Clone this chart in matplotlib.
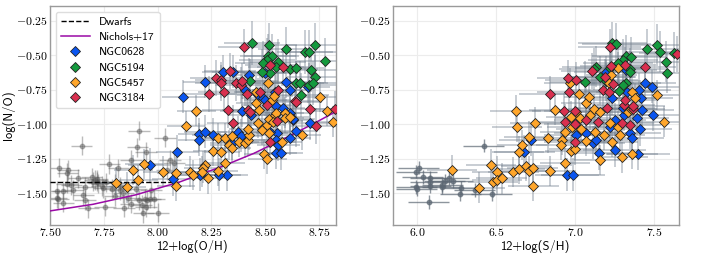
import matplotlib
matplotlib.use("Agg")
import matplotlib.pyplot as plt
from matplotlib.ticker import FuncFormatter, MultipleLocator
from matplotlib.lines import Line2D
import numpy as np

plt.rcParams['mathtext.fontset'] = 'cm'
plt.rcParams['font.family'] = ['cmss10', 'DejaVu Sans']
plt.rcParams['axes.formatter.use_mathtext'] = True

# ---------------- data: left panel (12+log(O/H), log(N/O)) ----------------
dwarf_oh = [7.647, 7.915, 8.034, 7.906, 7.946, 7.876, 7.776, 7.818, 7.543, 7.585,
            7.581, 7.632, 7.694, 7.709, 7.717, 7.701, 7.725, 7.740, 7.748, 7.663,
            7.608, 7.531, 7.559, 7.531, 7.539, 7.562, 7.655, 7.663, 7.678, 7.756,
            7.825, 7.841, 7.864, 7.844, 7.915, 7.926, 7.940, 7.949, 7.965, 7.946,
            7.934, 8.003, 7.802, 7.825, 8.058, 8.076, 8.045, 7.985, 7.875, 7.580,
            7.600, 7.720, 7.760, 7.790, 7.800, 7.900, 7.970]
dwarf_no_oh = [-1.155, -1.047, -1.097, -1.167, -1.199, -1.259, -1.288, -1.319, -1.314, -1.331,
               -1.351, -1.392, -1.385, -1.404, -1.416, -1.416, -1.428, -1.447, -1.464, -1.452,
               -1.476, -1.483, -1.483, -1.536, -1.543, -1.568, -1.512, -1.549, -1.609, -1.597,
               -1.476, -1.500, -1.536, -1.604, -1.549, -1.585, -1.540, -1.552, -1.540, -1.602,
               -1.645, -1.640, -1.428, -1.450, -1.259, -1.278, -1.331, -1.540, -1.575, -1.430,
               -1.440, -1.400, -1.420, -1.470, -1.520, -1.470, -1.480]

n628_oh = [8.305, 8.352, 8.219, 8.120, 8.426, 8.406, 8.468, 8.391, 8.499, 8.597,
           8.615, 8.700, 8.491, 8.547, 8.500, 8.092, 8.194, 8.194, 8.223, 8.259,
           8.375, 8.388, 8.344, 8.433, 8.553, 8.584, 8.615, 8.556, 8.550, 8.561,
           8.615, 8.646, 8.628, 8.708, 8.550, 8.576, 8.321, 8.287, 8.197, 8.073,
           8.522, 7.965, 8.631]
n628_no_oh = [-0.619, -0.619, -0.692, -0.800, -0.644, -0.752, -0.788, -0.902, -0.631, -0.692,
              -0.752, -0.728, -0.812, -0.764, -0.824, -1.198, -1.073, -1.114, -1.054, -1.078,
              -1.059, -1.085, -1.138, -0.933, -0.868, -0.885, -0.921, -1.066, -1.114, -1.150,
              -1.102, -1.047, -0.969, -0.993, -1.206, -1.211, -1.367, -1.367, -1.367, -1.397,
              -1.054, -1.295, -0.964]

n5194_oh = [8.439, 8.519, 8.597, 8.731, 8.685, 8.705, 8.778, 8.514, 8.530, 8.507,
            8.561, 8.491, 8.550, 8.618, 8.646, 8.713, 8.732, 8.705, 8.724, 8.646,
            8.662, 8.525, 8.488, 8.669, 8.429]
n5194_no_oh = [-0.414, -0.426, -0.458, -0.426, -0.475, -0.475, -0.540, -0.506, -0.506, -0.535,
               -0.547, -0.559, -0.583, -0.602, -0.590, -0.607, -0.660, -0.716, -0.704, -0.704,
               -0.704, -0.627, -0.619, -0.788, -0.685]

n5457_oh = [8.181, 8.132, 8.256, 8.295, 8.282, 8.313, 8.344, 8.333, 8.344, 8.380,
            8.406, 8.422, 8.426, 8.422, 8.457, 8.468, 8.484, 8.507, 8.518, 8.518,
            8.545, 8.553, 8.592, 8.592, 8.615, 8.581, 8.670, 8.494, 8.511, 8.316,
            8.220, 8.213, 8.205, 8.150, 8.166, 8.236, 8.282, 8.086, 8.086, 8.786,
            8.817, 7.937, 7.887, 8.024, 7.910, 7.807, 7.856, 8.457, 8.515, 8.755,
            8.530, 8.541, 8.470, 8.535]
n5457_no_oh = [-0.902, -1.013, -1.191, -1.198, -1.102, -1.102, -1.085, -1.150, -1.174, -1.126,
               -1.138, -1.114, -1.078, -1.037, -0.849, -0.989, -1.042, -1.006, -1.061, -0.964,
               -0.933, -0.916, -0.916, -0.957, -0.945, -1.126, -1.078, -1.215, -1.254, -1.283,
               -1.295, -1.319, -1.343, -1.343, -1.367, -1.392, -1.336, -1.351, -1.447, -0.902,
               -0.981, -1.290, -1.331, -1.343, -1.404, -1.423, -1.457, -0.764, -0.699, -0.805,
               -0.824, -0.796, -0.900, -0.985]

n3184_oh = [8.401, 8.336, 8.270, 8.293, 8.293, 8.240, 8.309, 8.363, 8.388, 8.394,
            8.417, 8.329, 8.422, 8.525, 8.584, 8.638, 8.476, 8.558, 8.708, 8.824,
            8.352, 8.522, 8.736, 8.643, 8.507, 8.556, 8.430]
n3184_no_oh = [-0.438, -0.614, -0.668, -0.680, -0.704, -0.783, -0.764, -0.704, -0.716, -0.687,
               -0.781, -0.897, -0.897, -0.571, -0.583, -0.829, -0.764, -0.752, -0.892, -0.892,
               -0.989, -1.126, -1.010, -0.837, -0.861, -0.974, -0.910]

# Nichols+17 relation
nichols_oh = [7.50, 7.70, 7.90, 8.10, 8.30, 8.45, 8.60, 8.72, 8.84]
nichols_no = [-1.628, -1.580, -1.511, -1.420, -1.306, -1.210, -1.096, -1.001, -0.900]
dwarf_mean = -1.42
dwarf_range = [7.50, 8.10]

# ---------------- data: right panel (12+log(S/H), log(N/O)) ----------------
dwarf_sh = [6.011, 5.994, 6.036, 6.082, 6.082, 5.994, 5.998, 6.084, 6.158, 6.158,
            6.173, 6.200, 6.226, 6.278, 6.274, 6.363, 6.422, 6.472, 6.072]
dwarf_no_sh = [-1.314, -1.343, -1.380, -1.392, -1.416, -1.457, -1.471, -1.445, -1.440, -1.457,
               -1.409, -1.392, -1.409, -1.464, -1.508, -1.476, -1.155, -1.505, -1.563]

n628_sh = [6.674, 6.719, 6.948, 6.986, 7.003, 7.066, 7.113, 7.134, 7.151, 7.250,
           7.250, 7.307, 7.345, 7.361, 7.391, 7.397, 7.412, 7.425, 7.492, 7.218,
           7.319, 7.193, 7.197, 7.439, 7.488, 7.403, 7.418, 7.235, 7.302, 7.330]
n628_no_sh = [-1.198, -1.114, -1.367, -1.367, -1.078, -1.066, -1.133, -1.114, -1.211, -1.187,
              -0.969, -0.933, -1.061, -1.102, -0.957, -1.215, -1.037, -0.897, -0.933, -1.022,
              -0.607, -0.624, -0.680, -0.699, -0.728, -0.752, -0.812, -0.812, -0.885, -0.770]

n5194_sh = [7.235, 7.454, 7.517, 7.534, 7.622, 7.572, 7.583, 7.323, 7.355, 7.302,
            7.271, 7.345, 7.349, 7.134, 7.218, 7.155, 7.323, 7.302, 7.277, 7.060,
            7.260, 7.117, 7.193]
n5194_no_sh = [-0.409, -0.458, -0.426, -0.475, -0.482, -0.547, -0.627, -0.506, -0.516, -0.535,
               -0.554, -0.602, -0.619, -0.583, -0.590, -0.660, -0.699, -0.716, -0.757, -0.692,
               -0.420, -0.602, -0.685]

n5457_sh = [6.219, 6.394, 6.468, 6.504, 6.479, 6.506, 6.535, 6.609, 6.647, 6.622,
            6.632, 6.643, 6.664, 6.708, 6.744, 6.690, 6.705, 6.730, 6.734, 6.843,
            6.828, 6.870, 6.919, 6.912, 6.970, 6.997, 6.934, 6.934, 6.982, 6.976,
            7.029, 7.039, 7.070, 7.123, 7.007, 7.070, 7.092, 7.117, 7.155, 7.180,
            7.235, 7.218, 7.271, 7.281, 7.334, 7.361, 7.298, 7.155, 7.559, 6.965,
            7.271, 7.229, 7.214, 7.361, 7.517, 7.087, 7.024, 7.355, 7.378]
n5457_no_sh = [-1.331, -1.459, -1.293, -1.343, -1.421, -1.404, -1.392, -1.348, -1.324, -0.902,
               -1.018, -1.199, -1.150, -1.090, -0.989, -1.300, -1.340, -1.320, -1.447, -1.339,
               -1.102, -0.897, -1.114, -1.150, -1.191, -1.182, -1.054, -1.283, -1.018, -0.945,
               -0.957, -1.037, -1.119, -1.054, -0.909, -0.849, -0.933, -0.892, -0.909, -1.078,
               -1.126, -0.989, -1.018, -1.078, -0.909, -1.215, -1.240, -1.259, -0.981, -0.704,
               -0.590, -0.644, -0.704, -0.764, -0.788, -0.800, -0.781, -0.892, -0.812]

n3184_sh = [6.843, 6.927, 7.001, 6.955, 7.007, 6.961, 6.934, 7.000, 7.000, 7.066,
            7.144, 7.201, 7.298, 7.345, 7.366, 7.307, 7.218, 7.644, 7.439, 7.313,
            7.229, 7.108, 7.186, 7.239, 7.176, 7.214, 7.313, 7.365]
n3184_no_sh = [-0.781, -0.902, -0.902, -0.668, -0.680, -0.764, -0.981, -0.999, -1.126, -0.969,
               -0.981, -0.885, -0.993, -1.006, -0.892, -0.861, -0.438, -0.494, -0.588, -0.571,
               -0.578, -0.612, -0.660, -0.709, -0.752, -0.764, -0.825, -0.868]

# typical uncertainties
err_oh = {'NGC0628': (0.10, 0.12), 'NGC5194': (0.13, 0.16), 'NGC5457': (0.09, 0.11), 'NGC3184': (0.12, 0.13)}
err_sh = {'NGC0628': (0.20, 0.12), 'NGC5194': (0.22, 0.15), 'NGC5457': (0.16, 0.11), 'NGC3184': (0.20, 0.13)}
dwarf_err_oh = (0.05, 0.07)
dwarf_err_sh = (0.13, 0.05)

names = ['NGC0628', 'NGC5194', 'NGC5457', 'NGC3184']
colors = {'NGC0628': '#0a55f0', 'NGC5194': '#159a3e', 'NGC5457': '#ffa62b', 'NGC3184': '#d9304f'}
left_data = {'NGC0628': (n628_oh, n628_no_oh), 'NGC5194': (n5194_oh, n5194_no_oh),
             'NGC5457': (n5457_oh, n5457_no_oh), 'NGC3184': (n3184_oh, n3184_no_oh)}
right_data = {'NGC0628': (n628_sh, n628_no_sh), 'NGC5194': (n5194_sh, n5194_no_sh),
              'NGC5457': (n5457_sh, n5457_no_sh), 'NGC3184': (n3184_sh, n3184_no_sh)}

fig = plt.figure(figsize=(7.04, 2.56), dpi=100)
ax1 = fig.add_axes([0.071, 0.121, 0.406, 0.856])
ax2 = fig.add_axes([0.558, 0.121, 0.406, 0.856])

ebar_col = '#74818f'

def style(ax):
    ax.set_facecolor('white')
    ax.grid(True, color='#ececec', lw=0.8, zorder=0)
    ax.set_axisbelow(True)
    for s in ax.spines.values():
        s.set_color('#9a9a9a')
        s.set_linewidth(1.0)
    ax.tick_params(length=0, labelsize=8.5, pad=1.5)
    ax.set_ylim(-1.73, -0.144)
    ax.yaxis.set_major_locator(MultipleLocator(0.25))
    ax.yaxis.set_major_formatter(FuncFormatter(lambda v, p: f'${v:.2f}$'))

def draw(ax, xd, yd, dx, dy, data, errs, dcol, dalpha):
    ax.errorbar(xd, yd, xerr=dx, yerr=dy, fmt='o', ms=3.2, color=dcol, alpha=dalpha,
                ecolor=dcol, elinewidth=1.0, capsize=0, zorder=2)
    for n in names:
        x, y = data[n]
        ex, ey = errs[n]
        ax.errorbar(x, y, xerr=ex, yerr=ey, fmt='none', ecolor=ebar_col, alpha=0.5,
                    elinewidth=1.1, capsize=0, zorder=2)
    for n in names:
        x, y = data[n]
        ax.plot(x, y, 'D', ms=5.0, mfc=colors[n], mec='#222222', mew=0.6, ls='none', zorder=4)

# left panel
style(ax1)
draw(ax1, dwarf_oh, dwarf_no_oh, dwarf_err_oh[0], dwarf_err_oh[1], left_data, err_oh, '#555555', 0.4)
ax1.plot(dwarf_range, [dwarf_mean, dwarf_mean], ls='--', color='black', lw=1.0, zorder=3)
ax1.plot(nichols_oh, nichols_no, color='#9a0aa6', lw=1.1, zorder=3)
ax1.set_xlim(7.5, 8.829)
ax1.xaxis.set_major_locator(MultipleLocator(0.25))
ax1.xaxis.set_major_formatter(FuncFormatter(lambda v, p: f'${v:.2f}$'))
ax1.set_xlabel('12+log(O/H)', fontsize=9, labelpad=0.5)
ax1.set_ylabel('log(N/O)', fontsize=9, labelpad=0.5)

handles = [Line2D([], [], ls='--', color='black', lw=1.0),
           Line2D([], [], color='#9a0aa6', lw=1.1)]
for n in names:
    handles.append(Line2D([], [], marker='D', ls='none', ms=5, mfc=colors[n], mec='#222222', mew=0.6))
leg = ax1.legend(handles, ['Dwarfs', 'Nichols+17'] + names, loc='upper left', fontsize=8.3,
                 frameon=True, fancybox=True, framealpha=1.0, edgecolor='#dddddd',
                 handlelength=2.5, borderpad=0.45, labelspacing=0.45, handletextpad=0.8,
                 bbox_to_anchor=(0.0, 1.0), borderaxespad=0.5)
leg.set_zorder(10)

# right panel
style(ax2)
draw(ax2, dwarf_sh, dwarf_no_sh, dwarf_err_sh[0], dwarf_err_sh[1], right_data, err_sh, '#5d6874', 0.7)
ax2.set_xlim(5.846, 7.654)
ax2.xaxis.set_major_locator(MultipleLocator(0.5))
ax2.xaxis.set_major_formatter(FuncFormatter(lambda v, p: f'${v:.1f}$'))
ax2.set_xlabel('12+log(S/H)', fontsize=9, labelpad=0.5)

fig.savefig('out.png', dpi=100)
